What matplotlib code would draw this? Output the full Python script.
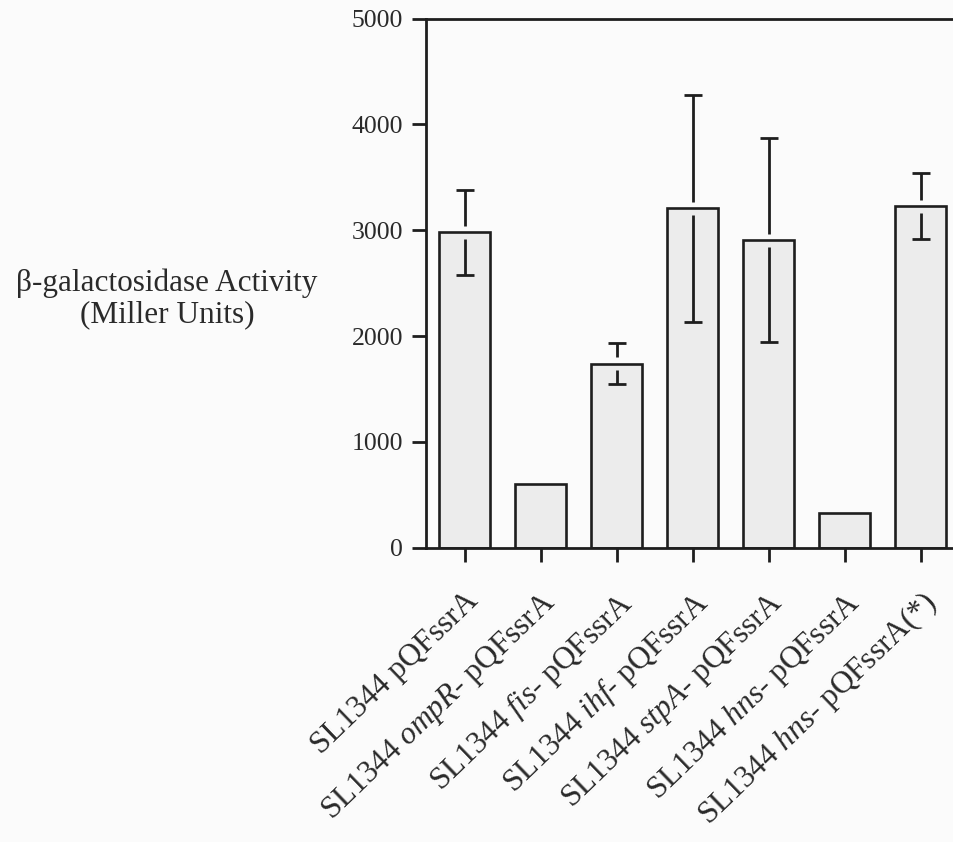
import matplotlib
matplotlib.use("Agg")
import matplotlib.pyplot as plt
import numpy as np

# ---- data ----
strains = ["SL1344 pQFssrA",
           "SL1344 $\\mathit{ompR}$- pQFssrA",
           "SL1344 $\\mathit{fis}$- pQFssrA",
           "SL1344 $\\mathit{ihf}$- pQFssrA",
           "SL1344 $\\mathit{stpA}$- pQFssrA",
           "SL1344 $\\mathit{hns}$- pQFssrA",
           "SL1344 $\\mathit{hns}$- pQFssrA(*)"]
activity = [2980, 605, 1740, 3205, 2905, 330, 3225]
errors = [400, 0, 190, 1075, 962, 0, 312]
yticks = [0, 1000, 2000, 3000, 4000, 5000]
ylabel = "\u03b2-galactosidase Activity\n(Miller Units)"

# ---- style ----
plt.rcParams['font.family'] = ['Liberation Serif', 'DejaVu Serif']
plt.rcParams['mathtext.fontset'] = 'custom'
plt.rcParams['mathtext.rm'] = 'Liberation Serif'
plt.rcParams['mathtext.it'] = 'Liberation Serif:italic'
plt.rcParams['mathtext.bf'] = 'Liberation Serif:bold'

INK = '#1e1e1e'
TXT = '#2a2a2a'
BG = '#fbfbfb'
BAR = '#ececec'
GAP = 60  # visual gap of error line around bar top (data units)

fig = plt.figure(figsize=(9.54, 8.42), dpi=100, facecolor=BG)
ax = fig.add_axes([426.5 / 954, 1 - 547.7 / 842, (954 - 426.5) / 954, (547.7 - 18.5) / 842])
ax.set_facecolor(BG)

x = np.arange(len(strains))
means = np.array(activity, dtype=float)
errs = np.array(errors, dtype=float)

ax.bar(x, means, width=0.67, color=BAR, edgecolor=INK, linewidth=1.9, zorder=2)

m = errs > 0
ax.vlines(x[m], means[m] + GAP, means[m] + errs[m], color=INK, linewidth=2.0, zorder=3)
ax.vlines(x[m], means[m] - errs[m], means[m] - GAP, color=INK, linewidth=2.0, zorder=3)
ax.errorbar(x[m], means[m], yerr=errs[m], fmt='none', elinewidth=0,
            ecolor=INK, capsize=6.5, capthick=2.0, zorder=3)

ax.set_xlim(-0.5, 6.44)
ax.set_ylim(0, 5000)
ax.set_yticks(yticks)
ax.set_yticklabels([str(t) for t in yticks], fontsize=18.5, color=TXT)
ax.set_xticks(x)
ax.set_xticklabels(strains, rotation=44, ha='right', va='top',
                   rotation_mode='anchor', fontsize=22.5, color=TXT)

ax.tick_params(axis='both', direction='out', length=10, width=2.0, color=INK)
ax.tick_params(axis='y', pad=7)
ax.tick_params(axis='x', pad=18)

for s in ['left', 'top', 'bottom']:
    ax.spines[s].set_linewidth(2.0)
    ax.spines[s].set_color(INK)
ax.spines['right'].set_visible(False)

ax.set_ylabel(ylabel, rotation=0, fontsize=22.5, color=TXT, ha='center', va='center',
              multialignment='center', linespacing=1.1)
ax.yaxis.set_label_coords(-0.492, 0.470)

fig.savefig("out.png", dpi=100, facecolor=BG)
